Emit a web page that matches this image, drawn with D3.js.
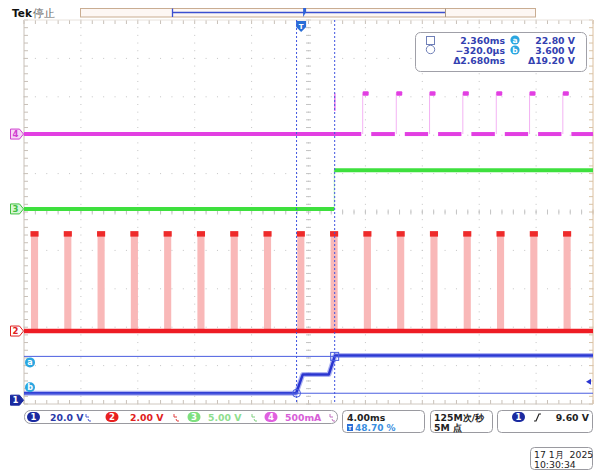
<!DOCTYPE html>
<html><head><meta charset="utf-8">
<script src="https://cdn.jsdelivr.net/npm/d3@7/dist/d3.min.js"></script>
<style>
body{margin:0;background:#fff;}
svg{display:block;}
text{font-family:"DejaVu Sans",sans-serif;}
</style></head>
<body>
<svg id="c" width="598" height="473"></svg>
<script>
// ---------- data ----------
const timeRange = [-19.48, 20.52];            // ms across 10 divisions (4.00 ms/div, trigger 48.70 %)
const ch1Wave = [[-19.48,3.6],[-0.35,3.6],[0.12,13.4],[1.95,13.4],[2.38,23.2],[20.52,23.2]]; // V
const ch2PulseStarts = [-18.99,-16.65,-14.31,-11.97,-9.63,-7.29,-4.95,-2.61,-0.27,2.07,4.41,6.75,9.09,11.43,13.77,16.11,18.45]; // ms
const ch2High = 5.1, ch2Width = 0.5;
const ch3Wave = [[-19.48,0],[2.33,0],[2.33,5.05],[20.52,5.05]]; // V
const ch4PulseStarts = [4.33,6.69,9.03,11.37,13.72,16.06,18.4]; // ms
const ch4High = 0.53, ch4Width = 0.5;
const cursorTimes = [2.36, -0.32];   // ms
const cursorVolts = [22.8, 3.6];     // V on ch1
const cursorLabels = ["2.360ms","\u2212320.0\u00b5s","\u03942.680ms"];
const cursorVLabels = ["22.80 V","3.600 V","\u039419.20 V"];
const chanScales = ["20.0 V","2.00 V","5.00 V","500mA"];
const horizLabels = ["4.00ms","48.70 %"];
const acqLabels = ["125M\u6b21/\u79d2","5M \u70b9"];
const trigLabel = "9.60 V";
const trigLevel = 9.6;
const dateLabels = ["17 1\u6708  2025","10:30:34"];

// ---------- setup ----------
const svg = d3.select("#c");
const L=24,R=593,T=20,B=404;
const x = d3.scaleLinear().domain(timeRange).range([L,R]);
const yDiv = d3.scaleLinear().domain([-5,5]).range([B,T]);
const xDiv = d3.scaleLinear().domain([0,10]).range([L,R]);
const ch = {
  1:{off:-4.9,per:20,color:"#2a35d0"},
  2:{off:-3.1,per:2,color:"#ee1c24"},
  3:{off:0.08,per:5,color:"#3ee03e"},
  4:{off:2.03,per:0.5,color:"#e23fe2"}
};
const yC = (c,v)=>yDiv(ch[c].off + v/ch[c].per);

// ---------- graticule ----------
const g = svg.append("g");
for(let i=1;i<10;i++){
  if(i===5) continue;
  for(let k=0;k<=50;k++){
    g.append("rect").attr("x",xDiv(i)-0.5).attr("y",yDiv(-5+k*0.2)-0.5).attr("width",1).attr("height",1).attr("fill","#c4c4c4");
  }
}
for(let j=1;j<10;j++){
  if(j===5) continue;
  for(let k=0;k<=50;k++){
    g.append("rect").attr("x",xDiv(k*0.2)-0.5).attr("y",yDiv(-5+j)-0.5).attr("width",1).attr("height",1).attr("fill","#c4c4c4");
  }
}
for(let k=0;k<=50;k++){
  g.append("rect").attr("x",xDiv(5)-0.5).attr("y",yDiv(-5+k*0.2)-0.5).attr("width",1).attr("height",1).attr("fill","#bbb");
  g.append("line").attr("x1",xDiv(5)-2.5).attr("x2",xDiv(5)+2.5).attr("y1",yDiv(-5+k*0.2)).attr("y2",yDiv(-5+k*0.2)).attr("stroke","#c4c4c4");
  g.append("rect").attr("x",xDiv(k*0.2)-0.5).attr("y",yDiv(0)-0.5).attr("width",1).attr("height",1).attr("fill","#bbb");
  g.append("line").attr("y1",yDiv(0)-2.5).attr("y2",yDiv(0)+2.5).attr("x1",xDiv(k*0.2)).attr("x2",xDiv(k*0.2)).attr("stroke","#c4c4c4");
  g.append("line").attr("x1",L).attr("x2",L+4).attr("y1",yDiv(-5+k*0.2)).attr("y2",yDiv(-5+k*0.2)).attr("stroke","#c8c0b8");
  g.append("line").attr("x1",R-4).attr("x2",R).attr("y1",yDiv(-5+k*0.2)).attr("y2",yDiv(-5+k*0.2)).attr("stroke","#d8c4a8");
  g.append("line").attr("y1",T).attr("y2",T+4).attr("x1",xDiv(k*0.2)).attr("x2",xDiv(k*0.2)).attr("stroke","#c8c0b8");
  g.append("line").attr("y1",B-4).attr("y2",B).attr("x1",xDiv(k*0.2)).attr("x2",xDiv(k*0.2)).attr("stroke","#c8c0b8");
}
g.append("line").attr("x1",L).attr("x2",L).attr("y1",T).attr("y2",B).attr("stroke","#c8c0b8");
g.append("line").attr("x1",R).attr("x2",R).attr("y1",T).attr("y2",B).attr("stroke","#dcc0a0");
g.append("line").attr("x1",L).attr("x2",R).attr("y1",B).attr("y2",B).attr("stroke","#d0c8c0");
g.append("line").attr("x1",L).attr("x2",R).attr("y1",T).attr("y2",T).attr("stroke","#e8e2dc");

// ---------- header ----------
svg.append("text").attr("x",12).attr("y",17).attr("font-size",10.5).attr("font-weight","bold").attr("fill","#111").text("Tek");
svg.append("text").attr("x",33).attr("y",17).attr("font-size",11).attr("fill","#666").attr("font-family","Noto Sans CJK SC").text("\u505c\u6b62");
svg.append("rect").attr("x",80.5).attr("y",8.5).attr("width",455).attr("height",8.5).attr("fill","#fdf7f4").attr("stroke","#c9ad92");
svg.append("line").attr("x1",172).attr("x2",445).attr("y1",12.5).attr("y2",12.5).attr("stroke","#3b4fd0").attr("stroke-width",1.3);
svg.append("line").attr("x1",172.5).attr("x2",172.5).attr("y1",8.5).attr("y2",17).attr("stroke","#3b4fd0").attr("stroke-width",1.3);
svg.append("line").attr("x1",445.5).attr("x2",445.5).attr("y1",8.5).attr("y2",17).attr("stroke","#a89888").attr("stroke-width",1);
svg.append("path").attr("d",`M${x(0)+2},8 l3,0 l0,4 l-3,5 z`).attr("fill","#2f63d8");
const tx = x(0);
svg.append("path").attr("d",`M${tx-5},21 h10 v6 l-5,5 l-5,-5 z`).attr("fill","#2a6fd8");
svg.append("text").attr("x",tx).attr("y",28.5).attr("text-anchor","middle").attr("font-size",7).attr("font-weight","bold").attr("fill","#fff").text("T");

// ---------- waveforms ----------
const line = (c)=>d3.line().x(d=>x(d[0])).y(d=>yC(c,d[1]));
const W = svg.append("g");

ch2PulseStarts.forEach(t=>{
  W.append("rect").attr("x",x(t)).attr("y",yC(2,ch2High)).attr("width",x(t+ch2Width)-x(t)).attr("height",yC(2,0)-yC(2,ch2High)).attr("fill","#f9b8b8");
  W.append("rect").attr("x",x(t)-0.5).attr("y",yC(2,ch2High)-2).attr("width",x(t+ch2Width)-x(t)+1).attr("height",5.5).attr("fill","#ee2a2a");
});
W.append("path").attr("d",line(2)([[timeRange[0],0],[timeRange[1],0]])).attr("stroke",ch[2].color).attr("stroke-width",4.5).attr("fill","none");

W.append("path").attr("d",line(3)(ch3Wave.slice(0,2))).attr("stroke",ch[3].color).attr("stroke-width",4).attr("fill","none");
W.append("path").attr("d",line(3)(ch3Wave.slice(2))).attr("stroke",ch[3].color).attr("stroke-width",4).attr("fill","none");
W.append("path").attr("d",line(3)(ch3Wave.slice(1,3))).attr("stroke",ch[3].color).attr("stroke-width",1).attr("opacity",0.35).attr("fill","none");

const segs=[]; let prev=timeRange[0];
ch4PulseStarts.forEach(t=>{segs.push([prev,t-0.1]); prev=t+ch4Width+0.1;});
segs.push([prev,timeRange[1]]);
segs.forEach(s=>{
  W.append("path").attr("d",line(4)([[s[0],0],[s[1],0]])).attr("stroke",ch[4].color).attr("stroke-width",4).attr("fill","none");
});
ch4PulseStarts.forEach(t=>{
  W.append("path").attr("d",line(4)([[t,0],[t,ch4High]])).attr("stroke",ch[4].color).attr("stroke-width",1).attr("opacity",0.4).attr("fill","none");
  W.append("rect").attr("x",x(t)).attr("y",yC(4,ch4High)-2).attr("width",x(t+0.42)-x(t)).attr("height",4.5).attr("rx",1).attr("fill",ch[4].color);
});
W.append("path").attr("d",line(4)([[2.37,0.3],[2.37,ch4High]])).attr("stroke",ch[4].color).attr("stroke-width",1.5).attr("opacity",0.7).attr("fill","none");

W.append("path").attr("d",line(1)(ch1Wave)).attr("stroke","#6b74e8").attr("stroke-width",5).attr("opacity",0.55).attr("fill","none").attr("stroke-linejoin","round");
W.append("path").attr("d",line(1)(ch1Wave)).attr("stroke",ch[1].color).attr("stroke-width",2.5).attr("fill","none").attr("stroke-linejoin","round");

// ---------- cursors ----------
const C = svg.append("g");
cursorVolts.forEach(v=>{
  C.append("line").attr("x1",L).attr("x2",R).attr("y1",yC(1,v)).attr("y2",yC(1,v)).attr("stroke","#4a5ee0").attr("stroke-width",1);
});
cursorTimes.forEach(t=>{
  C.append("line").attr("x1",x(t)).attr("x2",x(t)).attr("y1",T).attr("y2",B).attr("stroke","#3f55e0").attr("stroke-width",1).attr("stroke-dasharray","2,2");
});
C.append("rect").attr("x",x(cursorTimes[0])-4).attr("y",yC(1,cursorVolts[0])-4).attr("width",8).attr("height",8).attr("fill","none").attr("stroke","#4a5ee0");
C.append("circle").attr("cx",x(cursorTimes[1])).attr("cy",yC(1,cursorVolts[1])).attr("r",4).attr("fill","none").attr("stroke","#4a5ee0");
[["a",yC(1,cursorVolts[0])+6],["b",yC(1,cursorVolts[1])-6]].forEach(d=>{
  C.append("circle").attr("cx",30).attr("cy",d[1]).attr("r",5).attr("fill","#2aa6e0");
  C.append("text").attr("x",30).attr("y",d[1]+3).attr("text-anchor","middle").attr("font-size",8).attr("font-weight","bold").attr("fill","#fff").text(d[0]);
});
svg.append("path").attr("d",`M${R-7},${yC(1,trigLevel)} l5,-3 v6 z`).attr("fill","#2a35d0");

// ---------- channel markers ----------
function marker(c, fill, stroke, txt){
  const y = yC(c,0);
  svg.append("path").attr("d",`M10.5,${y-5} h9 l4,5 l-4,5 h-9 z`).attr("fill",fill).attr("stroke",stroke).attr("stroke-width",1);
  svg.append("text").attr("x",15.5).attr("y",y+3.3).attr("text-anchor","middle").attr("font-size",8.5).attr("font-weight","bold").attr("fill",txt).text(c);
}
marker(4,"#f6d8f6","#d040d0","#d040d0");
marker(3,"#d8f6d8","#40c040","#40c040");
marker(2,"#fff","#e02020","#e02020");
marker(1,"#1a2aa0","#1a2aa0","#fff");

// ---------- cursor readout ----------
const RB = svg.append("g");
RB.append("rect").attr("x",415.5).attr("y",32.5).attr("width",171).attr("height",39).attr("rx",5).attr("fill","#fff").attr("stroke","#a0a0a8");
RB.append("rect").attr("x",426.5).attr("y",36.5).attr("width",8).attr("height",8).attr("fill","none").attr("stroke","#7080b8");
RB.append("circle").attr("cx",430.5).attr("cy",49.5).attr("r",4.2).attr("fill","none").attr("stroke","#7080b8");
cursorLabels.forEach((s,i)=>{
  RB.append("text").attr("x",505).attr("y",43.5+i*10).attr("text-anchor","end").attr("font-size",9.3).attr("font-weight","bold").attr("fill","#3240b0").text(s);
});
cursorVLabels.forEach((s,i)=>{
  RB.append("text").attr("x",575).attr("y",43.5+i*10).attr("text-anchor","end").attr("font-size",9.3).attr("font-weight","bold").attr("fill","#3240b0").text(s);
});
[["a",40],["b",50]].forEach(d=>{
  RB.append("circle").attr("cx",515).attr("cy",d[1]).attr("r",4.6).attr("fill","#2aa6e0");
  RB.append("text").attr("x",515).attr("y",d[1]+3).attr("text-anchor","middle").attr("font-size",7.5).attr("font-weight","bold").attr("fill","#fff").text(d[0]);
});

// ---------- bottom status ----------
const SB = svg.append("g");
SB.append("rect").attr("x",24.5).attr("y",410.5).attr("width",313).attr("height",13).attr("rx",6).attr("fill","#fff").attr("stroke","#9a9aa0");
const pills = [
  {n:1,cx:33.5,fill:"#1a2aa0",tc:"#fff",vx:50,vc:"#2a3aa8",ix:86,ic:"#4a5ad0"},
  {n:2,cx:112,fill:"#e82020",tc:"#fff",vx:130,vc:"#e02020",ix:174,ic:"#e04040"},
  {n:3,cx:194,fill:"#7ee07e",tc:"#fff",vx:208,vc:"#8ede8e",ix:252,ic:"#80d080"},
  {n:4,cx:271,fill:"#e060e0",tc:"#fff",vx:285,vc:"#d860d8",ix:330,ic:"#c070c0"}
];
pills.forEach((p,i)=>{
  SB.append("rect").attr("x",p.cx-6.5).attr("y",412).attr("width",13).attr("height",10).attr("rx",5).attr("fill",p.fill);
  SB.append("text").attr("x",p.cx).attr("y",420.3).attr("text-anchor","middle").attr("font-size",8.5).attr("font-weight","bold").attr("fill",p.tc).text(p.n);
  SB.append("text").attr("x",p.vx).attr("y",420.8).attr("font-size",9.3).attr("font-weight","bold").attr("fill",p.vc).text(chanScales[i]);
  SB.append("path").attr("d",`M${p.ix},414 v3 l3,0 M${p.ix+2},419 l1,2 l2,0`).attr("fill","none").attr("stroke",p.ic).attr("stroke-width",1);
});
SB.append("rect").attr("x",342.5).attr("y",410.5).attr("width",82).attr("height",22).attr("rx",4).attr("fill","#fff").attr("stroke","#9a9aa0");
SB.append("text").attr("x",347).attr("y",420.5).attr("font-size",9.3).attr("font-weight","bold").attr("fill","#222").text(horizLabels[0]);
SB.append("rect").attr("x",347).attr("y",424).attr("width",6).attr("height",7).attr("fill","#2a6fd8");
SB.append("text").attr("x",350).attr("y",430.3).attr("text-anchor","middle").attr("font-size",5.5).attr("font-weight","bold").attr("fill","#fff").text("T");
SB.append("text").attr("x",355).attr("y",431).attr("font-size",9).attr("font-weight","bold").attr("fill","#3a8ee0").text(horizLabels[1]);
SB.append("rect").attr("x",430.5).attr("y",410.5).attr("width",62).attr("height",22).attr("rx",4).attr("fill","#fff").attr("stroke","#9a9aa0");
SB.append("text").attr("x",434).attr("y",420.5).attr("font-size",9.3).attr("font-weight","bold").attr("fill","#222").attr("font-family","Noto Sans CJK SC, DejaVu Sans").text(acqLabels[0]);
SB.append("text").attr("x",434).attr("y",431).attr("font-size",9.3).attr("font-weight","bold").attr("fill","#222").attr("font-family","Noto Sans CJK SC, DejaVu Sans").text(acqLabels[1]);
SB.append("rect").attr("x",497.5).attr("y",410.5).attr("width",95).attr("height",22).attr("rx",4).attr("fill","#fff").attr("stroke","#9a9aa0");
SB.append("rect").attr("x",512).attr("y",412).attr("width",13).attr("height",10).attr("rx",5).attr("fill","#1a2aa0");
SB.append("text").attr("x",518.5).attr("y",420.3).attr("text-anchor","middle").attr("font-size",8.5).attr("font-weight","bold").attr("fill","#fff").text("1");
SB.append("path").attr("d","M534,421 h2 l3,-7 h2").attr("fill","none").attr("stroke","#222").attr("stroke-width",1.2);
SB.append("text").attr("x",589).attr("y",420.8).attr("text-anchor","end").attr("font-size",9.3).attr("font-weight","bold").attr("fill","#222").text(trigLabel);
SB.append("rect").attr("x",530.5).attr("y",447.5).attr("width",62).attr("height",22).attr("rx",4).attr("fill","#fff").attr("stroke","#9a9aa0");
SB.append("text").attr("x",534).attr("y",458).attr("font-size",9.3).attr("fill","#222").attr("font-family","Noto Sans CJK SC, DejaVu Sans").style("white-space","pre").text(dateLabels[0]);
SB.append("text").attr("x",534).attr("y",468).attr("font-size",9.3).attr("fill","#222").text(dateLabels[1]);
</script>
</body></html>
